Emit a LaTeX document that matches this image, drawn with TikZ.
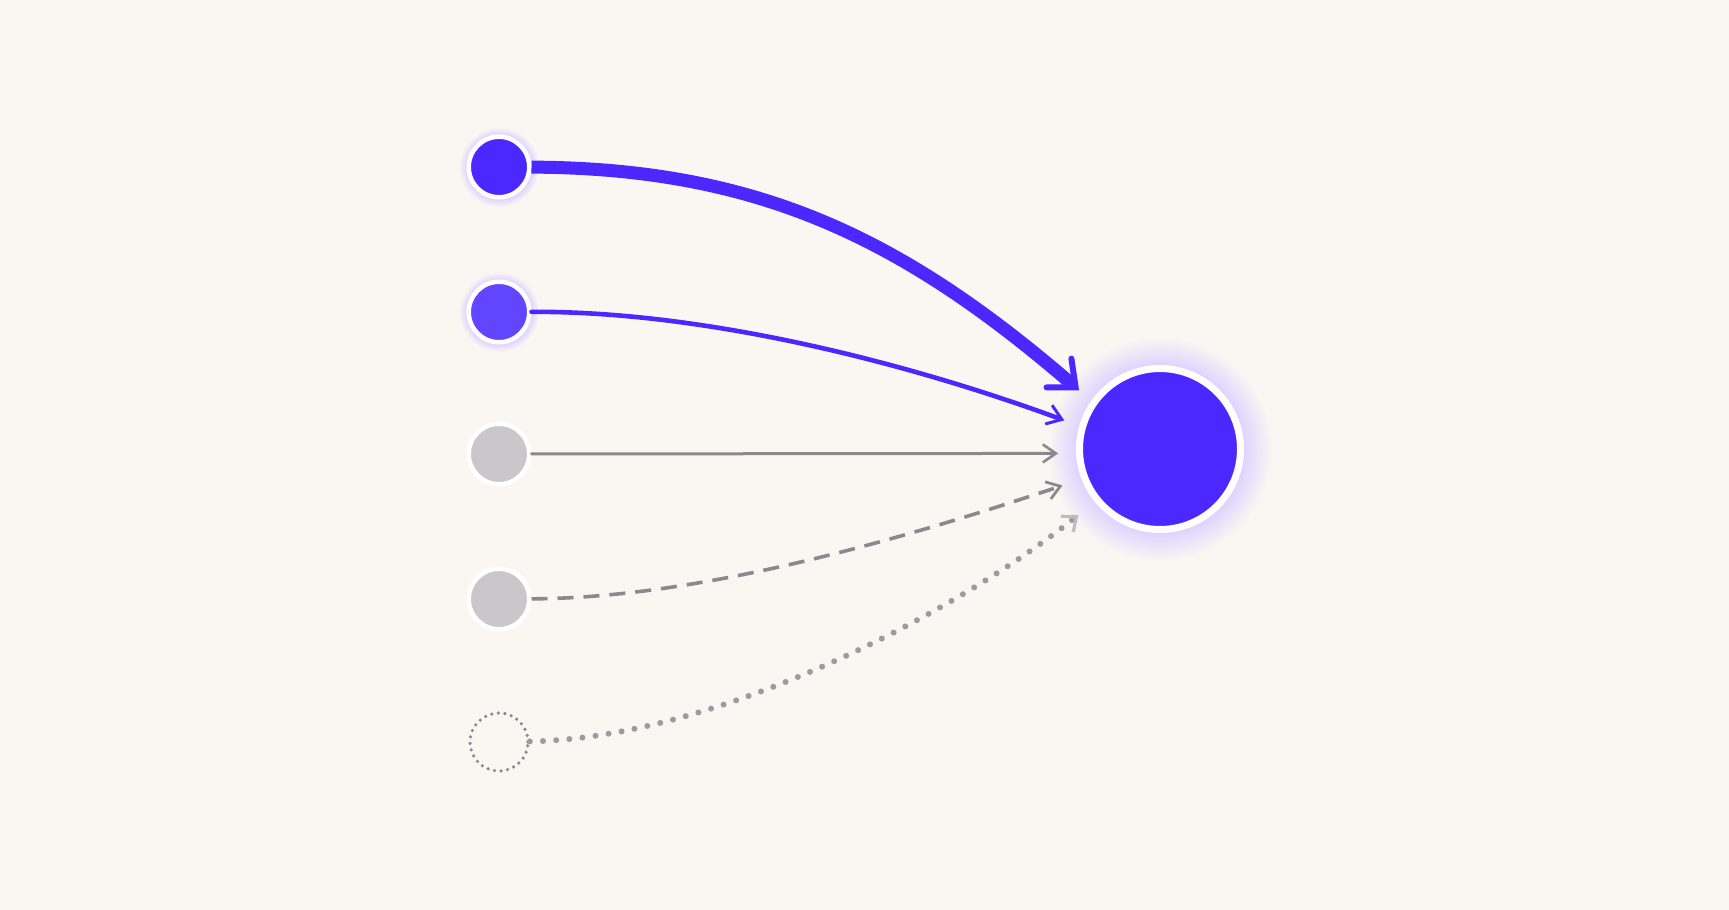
\documentclass[tikz,border=0pt]{standalone}
\usepackage{tikz}
\usetikzlibrary{arrows.meta}

\definecolor{bgcol}{RGB}{250,246,242}
\definecolor{blueA}{RGB}{74,40,255}
\definecolor{blueB}{RGB}{98,70,255}
\definecolor{greyfill}{RGB}{201,199,202}
\definecolor{greyline}{RGB}{138,137,144}
\definecolor{greylight}{RGB}{190,188,194}
\definecolor{glowcol}{RGB}{222,210,255}

\pgfdeclareradialshading{hubglow}{\pgfpoint{0bp}{0bp}}{color(0bp)=(glowcol); color(18.5bp)=(glowcol); color(25bp)=(bgcol); color(50bp)=(bgcol)}
\pgfdeclareradialshading{dotglow}{\pgfpoint{0bp}{0bp}}{color(0bp)=(glowcol); color(20bp)=(glowcol); color(25bp)=(bgcol); color(50bp)=(bgcol)}

\tikzset{
  srcnode/.style={circle, draw=white, line width=2.25pt, minimum size=30.25pt, inner sep=0pt},
  hubnode/.style={circle, draw=white, line width=3.5pt, minimum size=80.5pt, inner sep=0pt, fill=blueA},
  ghostnode/.style={circle, draw=greyline, line width=1.8pt, dash pattern=on 0pt off 3.3pt, line cap=round, minimum size=29pt, inner sep=0pt},
  wire/.style={line cap=round, line join=round},
}

\begin{document}
\begin{tikzpicture}[x=0.5pt,y=0.5pt,yscale=-1,xscale=1]
\useasboundingbox (0,0) rectangle (1729,910);

%Background
\fill[bgcol] (0,0) rectangle (1729,910);

%Glow
\shade[shading=hubglow] (1160,449) circle [radius=56pt];
\shade[shading=dotglow] (499,167) circle [radius=20pt];
\shade[shading=dotglow] (499,312) circle [radius=20pt];

%Source circles
\node (s1) [srcnode, fill=blueA] at (499,167) {};
\node (s2) [srcnode, fill=blueB] at (499,312) {};
\node (s3) [srcnode, fill=greyfill] at (499,454) {};
\node (s4) [srcnode, fill=greyfill] at (499,599) {};
\node (s5) [ghostnode] at (499,742) {};

%Target circle
\node (hub) [hubnode] at (1160,449) {};

%Curve Lines
\draw[wire, line cap=butt, draw=blueA, line width=6.5pt, -{Straight Barb[length=11pt,width=19pt,line width=3pt,line cap=round]}, shorten >=8pt]
  (s1) .. controls (760,168) and (905,240) .. (hub.145);
%Curve Lines
\draw[wire, draw=blueA, line width=2.3pt, -{Straight Barb[length=7pt,width=10pt,line width=1.5pt]}, shorten >=8pt]
  (s2) .. controls (700,311) and (900,360) .. (hub.164);
%Straight Lines
\draw[wire, draw=greyline, line width=1.5pt, -{Straight Barb[length=6.5pt,width=9pt,line width=1.3pt]}, shorten >=9pt]
  (s3) -- (hub.183);
%Curve Lines
\draw[wire, draw=greyline, line width=1.8pt, dash pattern=on 8pt off 5pt, line cap=butt, -{Straight Barb[length=6.5pt,width=9pt,line width=1.4pt]}, shorten >=10pt]
  (s4) .. controls (700,598) and (900,540) .. (hub.201);
%Curve Lines
\draw[wire, draw=greyline!85, line width=3pt, dash pattern=on 0pt off 6.6pt, -{Straight Barb[length=6pt,width=10pt,color=greylight,line width=1.6pt]}, shorten >=10.5pt]
  (s5) .. controls (720,738) and (960,610) .. (hub.219);

\end{tikzpicture}
\end{document}
